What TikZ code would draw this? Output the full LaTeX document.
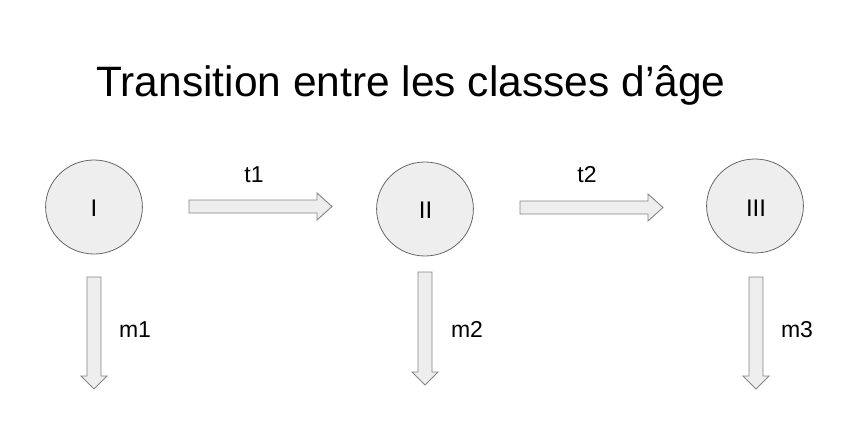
\documentclass[tikz,border=0pt]{standalone}
\usepackage{fontspec}
\setmainfont{Liberation Sans}
\definecolor{shapefill}{HTML}{EEEEEE}
\definecolor{shapeline}{HTML}{666666}
\definecolor{arrowline}{HTML}{858585}
\begin{document}
\begin{tikzpicture}[x=1pt,y=-1pt,
  stage/.style={draw=shapeline,fill=shapefill,line width=0.8pt,shape=circle,minimum size=94pt,inner sep=0pt,xscale=1.03},
  blockarrow/.style={draw=arrowline,fill=shapefill,line width=0.9pt,line join=miter},
  lbl/.style={font=\fontsize{23}{26}\selectfont,inner sep=0pt,anchor=base},
  numeral/.style={font=\fontsize{24}{28}\selectfont,inner sep=0pt,anchor=base}]
\useasboundingbox (0,0) rectangle (863,428);
\node[inner sep=0pt,anchor=base,font=\fontsize{42.5}{48}\selectfont] (title) at (411,97) {Transition entre les classes d’âge};
\node[stage] (c1) at (94,207) {};
\node[numeral] (n1) at (94,216) {I};
\node[stage] (c2) at (425,209) {};
\node[numeral] (n2) at (425.5,218) {II};
\node[stage] (c3) at (755,206) {};
\node[numeral] (n3) at (756,216) {III};
% horizontal block arrows
\draw[blockarrow] (189,200) -- (317,200) -- (317,193) -- (332,206.5) -- (317,220) -- (317,213) -- (189,213) -- cycle;
\draw[blockarrow] (520,201) -- (648,201) -- (648,194) -- (663,207.5) -- (648,221) -- (648,214) -- (520,214) -- cycle;
\node[lbl] (t1) at (254,182) {t1};
\node[lbl] (t2) at (587,182) {t2};
% vertical block arrows
\draw[blockarrow] (87,277) -- (101,277) -- (101,376) -- (107,376) -- (94,389) -- (81,376) -- (87,376) -- cycle;
\draw[blockarrow] (418,272) -- (432,272) -- (432,372) -- (438,372) -- (425,385) -- (412,372) -- (418,372) -- cycle;
\draw[blockarrow] (749,277) -- (763,277) -- (763,376) -- (769,376) -- (756,389) -- (743,376) -- (749,376) -- cycle;
\node[lbl] (m1) at (135,337) {m1};
\node[lbl] (m2) at (467,337) {m2};
\node[lbl] (m3) at (797,337) {m3};
\end{tikzpicture}
\end{document}
